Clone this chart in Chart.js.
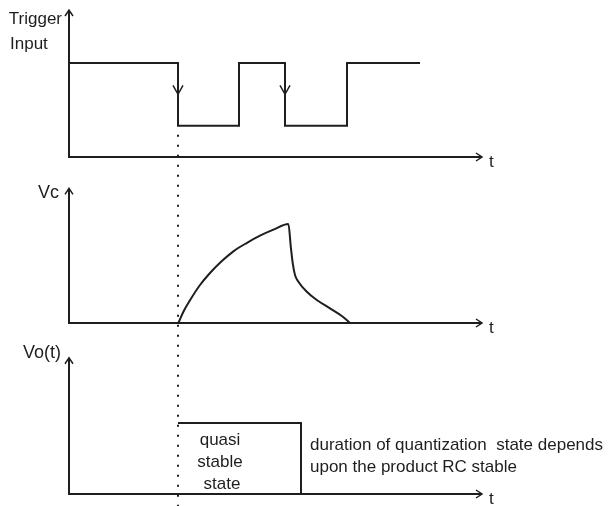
<!DOCTYPE html>
<html lang="en">
<head>
    <meta charset="UTF-8">
    <title>Monostable timing diagram</title>
    <script src="https://cdn.jsdelivr.net/npm/chart.js"></script>
    <style>
        body { margin: 0; background: #fff; }
        #timing { display: block; }
    </style>
</head>
<body>
    <canvas id="timing" width="613" height="506"></canvas>

    <script>
        // Trigger input: square wave (levels: 3 = high, 1 = low)
        const trigT = [0, 5.45, 5.45, 8.5, 8.5, 10.8, 10.8, 13.9, 13.9, 17.55];
        const trigV = [3, 3, 1, 1, 3, 3, 1, 1, 3, 3];
        const fallingEdges = [5.45, 10.8];

        // Capacitor voltage: charge then discharge
        const vcT = [5.47, 5.72, 6.05, 6.55, 7.05, 7.63, 8.22, 8.88, 9.55, 10.22, 10.97,
                     11.09, 11.19, 11.3, 11.47, 11.89, 12.39, 13.05, 13.64, 14.05];
        const vcV = [0, 0.114, 0.23, 0.384, 0.505, 0.623, 0.724, 0.808, 0.882, 0.943, 1.0,
                     0.77, 0.6, 0.485, 0.417, 0.316, 0.232, 0.148, 0.071, 0];

        // Output pulse (quasi stable state)
        const voT = [5.45, 11.6, 11.6];
        const voV = [1, 1, 0];

        const timeEnd = 20.65;

        const pts = (xs, ys) => xs.map((x, i) => ({ x: x, y: ys[i] }));

        const FONT = '17px "Liberation Sans", Arial, sans-serif';
        const INK = '#1e1e1e';

        // each panel: its y scale and how tall the drawn axis is
        const panels = [
            { id: 'yTrig', axisTop: 4.69 },
            { id: 'yVc', axisTop: 1.36 },
            { id: 'yVo', axisTop: 1.92 }
        ];

        const diagramDecor = {
            id: 'diagramDecor',
            afterDatasetsDraw(chart) {
                const { ctx, scales } = chart;
                const x = scales.x;
                const x0 = x.getPixelForValue(0);
                const xEnd = x.getPixelForValue(timeEnd);

                ctx.save();
                ctx.strokeStyle = INK;
                ctx.fillStyle = INK;
                ctx.lineWidth = 2;
                ctx.lineCap = 'butt';
                ctx.lineJoin = 'miter';

                panels.forEach(p => {
                    const y = scales[p.id];
                    const yb = y.getPixelForValue(0);
                    const yt = y.getPixelForValue(p.axisTop);

                    // axes
                    ctx.beginPath();
                    ctx.moveTo(x0, yt);
                    ctx.lineTo(x0, yb);
                    ctx.lineTo(xEnd, yb);
                    ctx.stroke();

                    // arrow heads
                    ctx.lineWidth = 1.5;
                    ctx.beginPath();
                    ctx.moveTo(x0 - 4, yt + 6);
                    ctx.lineTo(x0, yt);
                    ctx.lineTo(x0 + 4, yt + 6);
                    ctx.moveTo(xEnd - 6, yb - 4);
                    ctx.lineTo(xEnd, yb);
                    ctx.lineTo(xEnd - 6, yb + 4);
                    ctx.stroke();
                    ctx.lineWidth = 2;

                    ctx.font = FONT;
                    ctx.textBaseline = 'middle';
                    ctx.textAlign = 'left';
                    ctx.fillText('t', xEnd + 7, yb + 5);
                });

                // falling edge markers on the trigger
                const yTrig = scales.yTrig;
                ctx.lineWidth = 1.5;
                fallingEdges.forEach(t => {
                    const px = x.getPixelForValue(t);
                    const py = yTrig.getPixelForValue(2);
                    ctx.beginPath();
                    ctx.moveTo(px - 5, py - 9);
                    ctx.lineTo(px, py);
                    ctx.lineTo(px + 5, py - 9);
                    ctx.stroke();
                });

                // dotted marker at the trigger instant
                const px = x.getPixelForValue(fallingEdges[0]);
                ctx.lineWidth = 2;
                ctx.setLineDash([2, 8]);
                ctx.beginPath();
                ctx.moveTo(px, yTrig.getPixelForValue(1) + 9);
                ctx.lineTo(px, chart.height);
                ctx.stroke();
                ctx.setLineDash([]);

                // axis labels
                ctx.font = FONT;
                ctx.textBaseline = 'middle';
                ctx.textAlign = 'right';
                ctx.fillText('Trigger', x0 - 7, yTrig.getPixelForValue(4.4));
                ctx.textAlign = 'left';
                ctx.fillText('Input', x0 - 59, yTrig.getPixelForValue(3.6));

                ctx.font = '18px "Liberation Sans", Arial, sans-serif';
                ctx.textAlign = 'right';
                const yVc = scales.yVc;
                ctx.fillText('Vc', x0 - 10, yVc.getPixelForValue(1.31));
                const yVo = scales.yVo;
                ctx.fillText('Vo(t)', x0 - 8, yVo.getPixelForValue(1.99));

                // text inside and beside the output pulse
                ctx.font = FONT;
                ctx.textAlign = 'center';
                const midX = x.getPixelForValue(7.55);
                ctx.fillText('quasi', midX, yVo.getPixelForValue(0.76));
                ctx.fillText('stable', midX, yVo.getPixelForValue(0.45));
                ctx.fillText('state', midX + 2, yVo.getPixelForValue(0.13));

                ctx.textAlign = 'left';
                const noteX = x.getPixelForValue(11.6) + 9;
                ctx.fillText('duration of quantization  state depends', noteX, yVo.getPixelForValue(0.69));
                ctx.fillText('upon the product RC stable', noteX, yVo.getPixelForValue(0.38));

                ctx.restore();
            }
        };

        const lineStyle = {
            borderColor: INK,
            borderWidth: 2,
            pointRadius: 0,
            fill: false
        };

        new Chart(document.getElementById('timing'), {
            type: 'line',
            data: {
                datasets: [
                    Object.assign({ label: 'Trigger Input', data: pts(trigT, trigV), yAxisID: 'yTrig', tension: 0 }, lineStyle),
                    Object.assign({ label: 'Vc', data: pts(vcT, vcV), yAxisID: 'yVc', cubicInterpolationMode: 'monotone' }, lineStyle),
                    Object.assign({ label: 'Vo(t)', data: pts(voT, voV), yAxisID: 'yVo', tension: 0 }, lineStyle)
                ]
            },
            options: {
                responsive: false,
                animation: false,
                devicePixelRatio: 1,
                layout: { padding: { left: 69, right: 131, top: 8, bottom: 12 } },
                plugins: { legend: { display: false }, tooltip: { enabled: false } },
                scales: {
                    x: { type: 'linear', min: 0, max: timeEnd, display: false },
                    yTrig: { type: 'linear', position: 'left', stack: 'panels', stackWeight: 149, weight: 3, min: 0, max: 4.755, display: false },
                    yVc: { type: 'linear', position: 'left', stack: 'panels', stackWeight: 166, weight: 2, min: 0, max: 1.677, display: false },
                    yVo: { type: 'linear', position: 'left', stack: 'panels', stackWeight: 171, weight: 1, min: 0, max: 2.41, display: false }
                }
            },
            plugins: [diagramDecor]
        });
    </script>
</body>
</html>
